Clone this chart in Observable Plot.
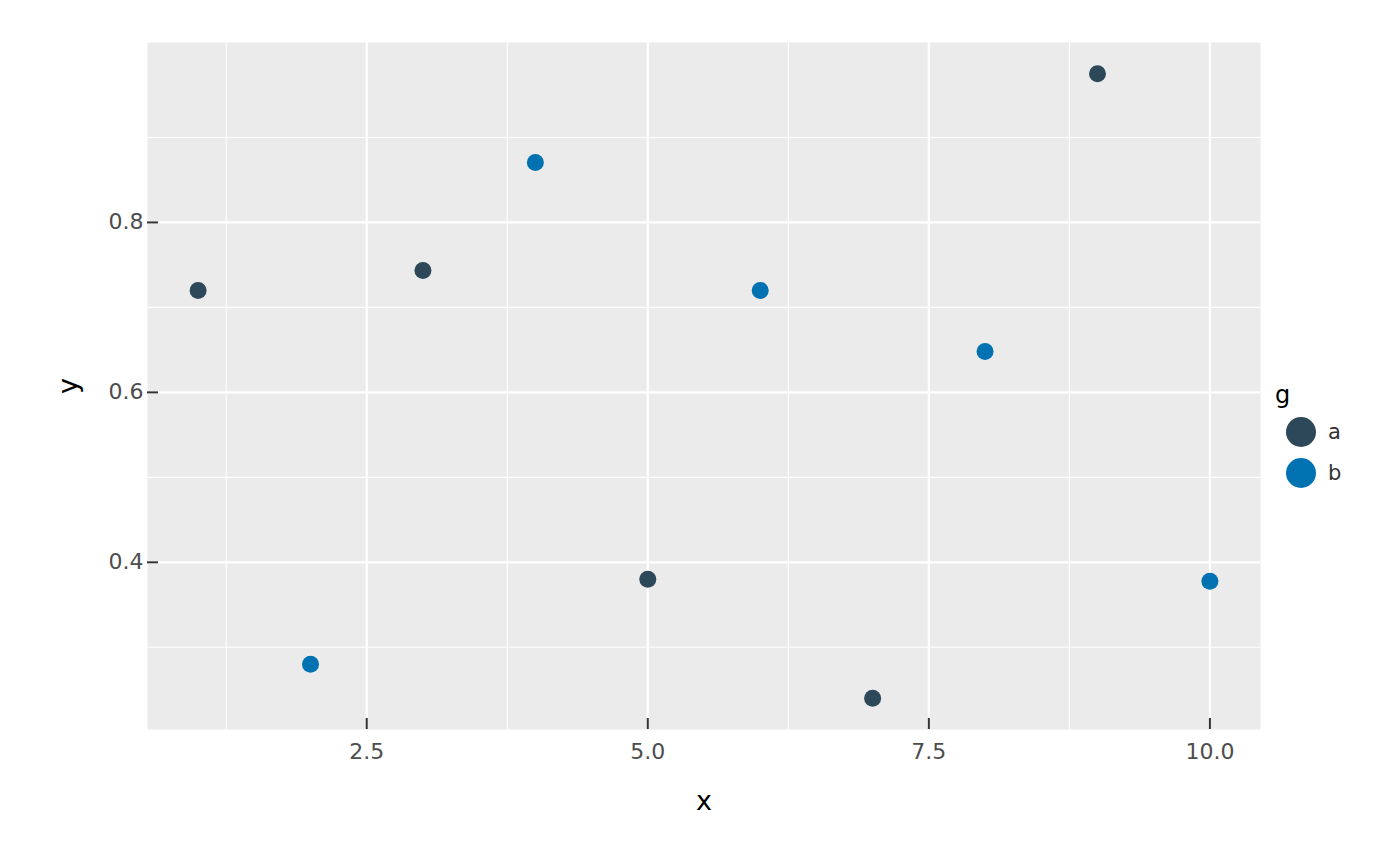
<!DOCTYPE html>
<html>
<head>
<meta charset="utf-8">
<script src="https://cdn.jsdelivr.net/npm/d3@7"></script>
<script src="https://cdn.jsdelivr.net/npm/@observablehq/plot@0.6"></script>
<style>
  html, body { margin: 0; padding: 0; background: #fff; }
  #wrap { position: relative; width: 1400px; height: 866px; font-family: "DejaVu Sans", sans-serif; }
  #legend { position: absolute; left: 1275px; top: 381px; }
  #legend .title { font-size: 24px; color: #000; margin-bottom: 2px; }
  #legend .row { display: flex; align-items: center; height: 41px; margin-left: 10px; }
  #legend .row span { font-size: 21px; color: #333; margin-left: 11px; }
</style>
</head>
<body>
<div id="wrap"></div>
<script>
const xs = [1, 2, 3, 4, 5, 6, 7, 8, 9, 10];
const ys = [0.72, 0.28, 0.7435, 0.8706, 0.38, 0.72, 0.24, 0.648, 0.975, 0.3776];
const groups = ["a", "b", "a", "b", "a", "b", "a", "b", "a", "b"];
const groupNames = ["a", "b"];
const groupColors = ["#2d4859", "#0072b2"];
const xMajor = [2.5, 5.0, 7.5, 10.0];
const xMinor = [1.25, 3.75, 6.25, 8.75];
const yMajor = [0.4, 0.6, 0.8];
const yMinor = [0.3, 0.5, 0.7, 0.9];

const data = xs.map((x, i) => ({x, y: ys[i], g: groups[i]}));

const xExt = d3.extent(xs), yExt = d3.extent(ys);
const xPad = (xExt[1] - xExt[0]) * 0.05, yPad = (yExt[1] - yExt[0]) * 0.05;

const W = 1400, H = 866;
const mL = 147, mR = 140, mT = 42, mB = 137;
const pw = W - mL - mR, ph = H - mT - mB;

const chart = Plot.plot({
  width: W,
  height: H,
  marginLeft: mL,
  marginRight: mR,
  marginTop: mT,
  marginBottom: mB,
  style: {fontFamily: "DejaVu Sans, sans-serif", background: "white"},
  x: {domain: [xExt[0] - xPad, xExt[1] + xPad]},
  y: {domain: [yExt[0] - yPad, yExt[1] + yPad]},
  color: {domain: groupNames, range: groupColors},
  marks: [
    Plot.frame({fill: "#ebebeb", stroke: null}),
    Plot.ruleX(xMinor, {stroke: "white", strokeWidth: 1.1}),
    Plot.ruleY(yMinor, {stroke: "white", strokeWidth: 1.1}),
    Plot.ruleX(xMajor, {stroke: "white", strokeWidth: 2.2}),
    Plot.ruleY(yMajor, {stroke: "white", strokeWidth: 2.2}),
    Plot.tickY(yMajor, {y: d => d, stroke: "#333", strokeWidth: 2, insetRight: pw - 11}),
    Plot.tickX(xMajor, {x: d => d, stroke: "#333", strokeWidth: 2, insetTop: ph - 11}),
    Plot.axisY({ticks: yMajor, tickSize: 0, tickPadding: 4, tickFormat: d3.format(".1f"),
      fontSize: 22, color: "#4d4d4d", label: "y", labelAnchor: "center", labelArrow: "none", labelOffset: 90}),
    Plot.axisX({ticks: xMajor, tickSize: 0, tickPadding: 14, tickFormat: d3.format(".1f"),
      fontSize: 22, color: "#4d4d4d", label: "x", labelAnchor: "center", labelArrow: "none", labelOffset: 80}),
    Plot.dot(data, {x: "x", y: "y", fill: "g", r: 8.5, stroke: null})
  ]
});

// axis label styling
d3.select(chart).selectAll("g[aria-label='x-axis label'] text, g[aria-label='y-axis label'] text")
  .attr("font-size", 27).attr("fill", "#000");
d3.select(chart).selectAll("g[aria-label='x-axis label'], g[aria-label='y-axis label']")
  .attr("fill", "#000").attr("font-size", 27);

document.getElementById("wrap").appendChild(chart);

// legend
const legend = document.createElement("div");
legend.id = "legend";
legend.innerHTML = `<div class="title">g</div>` + groupNames.map((g, i) =>
  `<div class="row"><svg width="32" height="32"><circle cx="16" cy="16" r="15" fill="${groupColors[i]}"/></svg><span>${g}</span></div>`
).join("");
document.getElementById("wrap").appendChild(legend);
</script>
</body>
</html>
